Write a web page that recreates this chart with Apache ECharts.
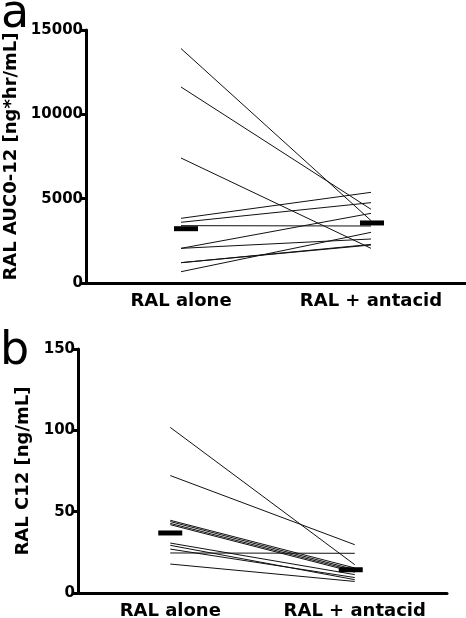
<!DOCTYPE html>
<html>
<head>
<meta charset="utf-8">
<script src="https://cdn.jsdelivr.net/npm/echarts@6/dist/echarts.min.js"></script>
<style>html,body{margin:0;padding:0;background:#fff}#c{width:466px;height:618px}</style>
</head>
<body>
<div id="c"></div>
<script>
var categories = ['RAL alone', 'RAL + antacid'];
// Panel a: RAL AUC0-12 [ng*hr/mL], one value per subject
var aucAlone   = [13900, 11620, 7410, 3835, 3600, 3400, 2055, 2055, 1205, 1205, 670];
var aucAntacid = [3700, 4370, 2055, 5375, 4763, 3379, 4130, 2609, 2253, 2290, 3004];
var aucCentral = [3220, 3560];
var aucTicks = [0, 5000, 10000, 15000];
// Panel b: RAL C12 [ng/mL]
var c12Alone   = [101.8, 72.2, 44.7, 43.9, 42.8, 42.0, 30.7, 29.3, 27.0, 24.6, 17.8];
var c12Antacid = [17.4, 29.7, 15.4, 14.4, 13.6, 12.8, 11.3, 8.2, 9.5, 24.4, 7.1];
var c12Central = [36.9, 14.3];
var c12Ticks = [0, 50, 100, 150];

var FONT = '"DejaVu Sans", sans-serif';
var chart = echarts.init(document.getElementById('c'), null, {renderer: 'canvas'});

function subjectSeries(a, b, idx) {
  var out = [];
  for (var i = 0; i < a.length; i++) {
    out.push({
      type: 'line', xAxisIndex: idx, yAxisIndex: idx,
      data: [a[i], b[i]], symbol: 'none', silent: true,
      lineStyle: {color: '#111', width: 1}, z: 2
    });
  }
  return out;
}
function centralSeries(vals, idx, offsets) {
  return vals.map(function (v, k) {
    var d = [null, null]; d[k] = v;
    return {
      type: 'scatter', xAxisIndex: idx, yAxisIndex: idx, data: d,
      symbol: 'rect', symbolSize: [24, 5], symbolOffset: offsets[k],
      itemStyle: {color: '#000', opacity: 1}, z: 5, silent: true
    };
  });
}
function xAxis(idx) {
  return {
    type: 'category', gridIndex: idx, data: categories, boundaryGap: true,
    axisLine: {lineStyle: {color: '#000', width: 3}},
    axisTick: {alignWithLabel: true, length: 5, lineStyle: {color: '#000', width: 3}},
    axisLabel: {color: '#000', fontFamily: FONT, fontWeight: 'bold', fontSize: 18, margin: 9, interval: 0},
    splitLine: {show: false}
  };
}
function yAxis(idx, ticks, name, gap) {
  return {
    type: 'value', gridIndex: idx, min: ticks[0], max: ticks[ticks.length - 1],
    interval: ticks[1] - ticks[0],
    name: name, nameLocation: 'middle', nameGap: gap,
    nameTextStyle: {color: '#000', fontFamily: FONT, fontWeight: 'bold', fontSize: 18},
    axisLine: {show: true, lineStyle: {color: '#000', width: 3}},
    axisTick: {show: true, length: 5, lineStyle: {color: '#000', width: 3}},
    axisLabel: {color: '#000', fontFamily: FONT, fontWeight: 'bold', fontSize: 15, margin: 3,
      formatter: function (v) { return String(v); }},
    splitLine: {show: false}
  };
}

var option = {
  animation: false,
  backgroundColor: '#fff',
  grid: [
    {left: 86, right: 0, top: 30, bottom: 335, containLabel: false, outerBoundsMode: 'none'},
    {left: 78, right: 19, top: 349, bottom: 25, containLabel: false, outerBoundsMode: 'none'}
  ],
  xAxis: [xAxis(0), xAxis(1)],
  yAxis: [
    yAxis(0, aucTicks, 'RAL AUC0-12 [ng*hr/mL]', 66),
    yAxis(1, c12Ticks, 'RAL C12 [ng/mL]', 46)
  ],
  graphic: [
    {type: 'text', left: 1, top: -8, style: {text: 'a', font: '46px ' + FONT, fill: '#000'}},
    {type: 'text', left: 0, top: 329, style: {text: 'b', font: '46px ' + FONT, fill: '#000'}}
  ],
  series: [].concat(
    subjectSeries(aucAlone, aucAntacid, 0),
    subjectSeries(c12Alone, c12Antacid, 1),
    centralSeries(aucCentral, 0, [[5, 0], [1, 0]]),
    centralSeries(c12Central, 1, [[0, 0], [-4, 0]])
  )
};
chart.setOption(option);
</script>
</body>
</html>
